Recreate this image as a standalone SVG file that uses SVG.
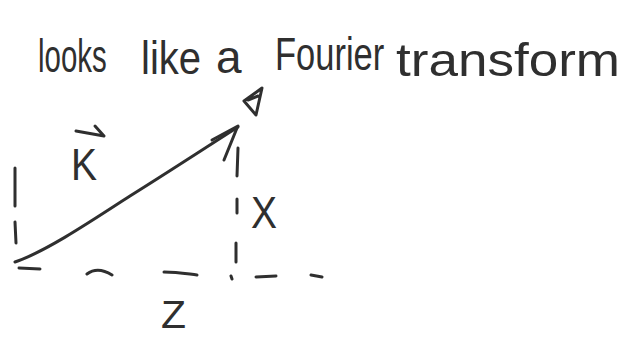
<svg xmlns="http://www.w3.org/2000/svg" width="628" height="339" viewBox="0 0 628 339">
<style>
.ink{fill:none;stroke:#2f2f2f;stroke-width:3;stroke-linecap:round;stroke-linejoin:round}
.hand{font-family:"Liberation Sans","DejaVu Sans",sans-serif;fill:#2f2f2f;font-size:46px}
</style>
<rect width="628" height="339" fill="#ffffff"/>
<g id="title">
<text class="hand" transform="translate(38,72) scale(0.64,1)">looks</text>
<text class="hand" transform="translate(141,74) scale(0.87,1)">like</text>
<text class="hand" x="216" y="73">a</text>
<text class="hand" transform="translate(275,70) scale(0.75,1)">Fourier</text>
<text class="hand" x="396" y="76" textLength="224" lengthAdjust="spacingAndGlyphs">transform</text>
</g>
<g id="marker">
<path class="ink" d="M244,101 L262,88 L256,115 Z M248,100 L258,96"/>
</g>
<g id="vector-k">
<path class="ink" d="M15,262 C45,252 90,222 130,196 C170,171 205,148 238,127"/>
<path class="ink" d="M212,140 L238,126 M224,160 L237,128"/>
<text class="hand" x="71" y="180" style="font-size:44px" textLength="26" lengthAdjust="spacingAndGlyphs">K</text>
<path class="ink" d="M76,131 L104,136 M95,126 L104,136"/>
</g>
<g id="connectors">
<path class="ink" d="M15,168 L15,206 M15,222 L16,243"/>
<path class="ink" d="M238,148 L237,176 M237,199 L237,213 M236,243 L236,262"/>
<path class="ink" d="M19,268 L40,269 M87,274 C95,268 104,270 112,275 M164,272 C178,272 188,274 197,275 M231,276 L232,279 M256,277 L276,276 M311,275 L322,277"/>
</g>
<g id="labels">
<text class="hand" x="251" y="228" style="font-size:44px" textLength="26" lengthAdjust="spacingAndGlyphs">X</text>
<text class="hand" x="161" y="328" style="font-size:38px" textLength="25" lengthAdjust="spacingAndGlyphs">Z</text>
</g>
</svg>
